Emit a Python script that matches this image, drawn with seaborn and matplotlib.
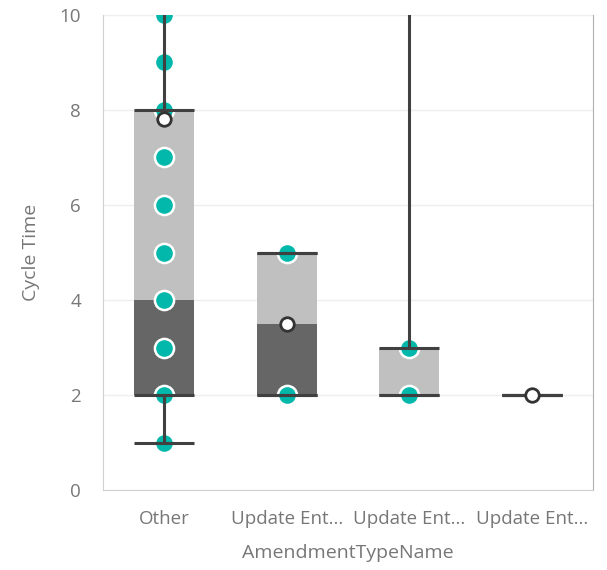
import numpy as np
import pandas as pd
import matplotlib.pyplot as plt
import seaborn as sns

# box statistics per category
keys = ["Other", "Update Ent A", "Update Ent B", "Update Ent C"]
tick_labels = ["Other", "Update Ent...", "Update Ent...", "Update Ent..."]
q1 = [2, 2, 2, 2]
median = [4, 3.5, 2, 2]
q3 = [8, 5, 3, 2]
whisk_lo = [1, 2, 2, 2]
whisk_hi = [12, 5, 14, 2]
means = [7.8, 3.5, np.nan, 2]

# individual data points shown
pt_cat = ["Other"] * 10 + ["Update Ent A"] * 2 + ["Update Ent B"] * 2
pt_val = [1, 2, 3, 4, 5, 6, 7, 8, 9, 10, 2, 5, 2, 3]

sns.set_style("white")
plt.rcParams['font.family'] = ['Open Sans', 'DejaVu Sans']

teal = "#01B8AA"
dark = "#666666"
light = "#C0C0C0"
line_c = "#404040"
txt_c = "#777777"

fig = plt.figure(figsize=(6.07, 5.70), dpi=100)
ax = fig.add_axes([0.17, 0.14, 0.807, 0.834])

x = np.arange(len(keys))
w = 0.49
q1a, meda, q3a = np.array(q1), np.array(median), np.array(q3)

ax.bar(x, meda - q1a, bottom=q1a, width=w, color=dark, linewidth=0, zorder=2)
ax.bar(x, q3a - meda, bottom=meda, width=w, color=light, linewidth=0, zorder=2)

pts = pd.DataFrame({"cat": pt_cat, "value": pt_val})
pts["pos"] = pts["cat"].map({k: i for i, k in enumerate(keys)})
sns.scatterplot(data=pts, x="pos", y="value", s=190, color=teal,
                edgecolor="white", linewidth=1.8, zorder=3, ax=ax)

ax.vlines(x, q3, whisk_hi, color=line_c, linewidth=2.2, zorder=4)
ax.vlines(x, whisk_lo, q1, color=line_c, linewidth=2.2, zorder=4)
for vals in (whisk_lo, q1, q3, whisk_hi):
    ax.hlines(vals, x - w / 2, x + w / 2, color=line_c, linewidth=2.2, zorder=4)

ax.scatter(x, means, s=95, facecolor="white", edgecolor="#333333",
           linewidth=2, zorder=5)

ax.set_xlim(-0.5, len(keys) - 0.5)
ax.set_ylim(0, 10)
ax.set_yticks([0, 2, 4, 6, 8, 10])
ax.set_xticks(x)
ax.set_xticklabels(tick_labels)
ax.grid(axis="y", color="#eeeeee", linewidth=1, zorder=0)
ax.set_axisbelow(True)
ax.tick_params(axis="both", colors=txt_c, labelsize=13.5, length=0)
ax.tick_params(axis="x", pad=14)
ax.tick_params(axis="y", pad=16)

ax.spines["top"].set_visible(False)
ax.spines["left"].set_color("#d0d0d0")
ax.spines["bottom"].set_color("#d0d0d0")
ax.spines["right"].set_color("#b0b0b0")

ax.set_xlabel("AmendmentTypeName", color=txt_c, fontsize=14, labelpad=12)
ax.set_ylabel("Cycle Time", color=txt_c, fontsize=14, labelpad=14)

fig.savefig("out.png", dpi=100)
